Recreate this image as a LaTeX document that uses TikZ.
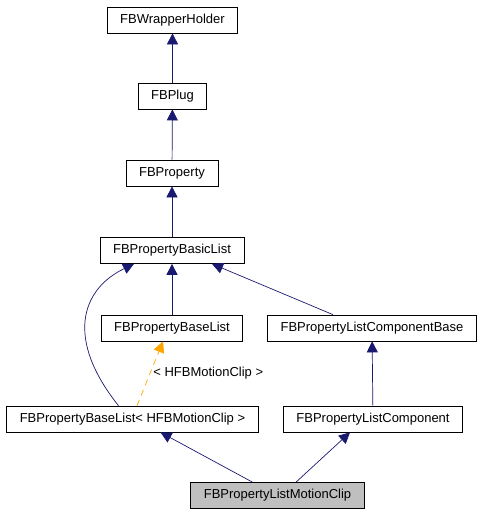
\documentclass[tikz,border=0pt]{standalone}
\usepackage{fontspec}
\setmainfont{Liberation Sans}
\usetikzlibrary{arrows.meta, calc}
\definecolor{edgeblue}{RGB}{25,25,112}
\definecolor{tmplorange}{RGB}{255,165,0}
\definecolor{curgray}{RGB}{191,191,191}

\begin{document}
\begin{tikzpicture}
  [x=1pt, y=-1pt,
   every node/.style = {font=\fontsize{13}{15}\selectfont},
   cls/.style = {
     rectangle, draw=black, fill=white, line width=0.7pt, align=center,
     inner xsep=13pt, inner ysep=0pt, minimum height=26pt},
   current/.style = {cls, fill=curgray},
   inherit/.style = {-{Triangle[length=11pt, width=11pt]}, draw=edgeblue, line width=0.7pt},
   tmpl/.style = {-{Triangle[length=11pt, width=11pt]}, draw=tmplorange,
     line width=0.7pt, dash pattern=on 6pt off 5pt}
  ]
  \useasboundingbox (0,0) rectangle (483,515);
  \node[cls] (wrapper) at (172.5,20) {FBWrapperHolder};
  \node[cls] (plug) at (172.5,96) {FBPlug};
  \node[cls] (property) at (172,173) {FBProperty};
  \node[cls] (basic) at (172,250.5) {FBPropertyBasicList};
  \node[cls] (baselist) at (172,328) {FBPropertyBaseList};
  \node[cls] (compbase) at (372,328) {FBPropertyListComponentBase};
  \node[cls] (hfb) at (132.5,419) {FBPropertyBaseList< HFBMotionClip >};
  \node[cls] (listcomp) at (373,419) {FBPropertyListComponent};
  \node[current] (motion) at (277.5,495.5) {FBPropertyListMotionClip};

  \draw[inherit] (plug) -- (wrapper);
  \draw[inherit] (property) -- (plug);
  \draw[inherit] (basic) -- (property);
  \draw[inherit] (baselist) -- (basic);
  \draw[inherit] ([xshift=-39pt]compbase.north) -- ([xshift=40pt]basic.south);
  \draw[inherit] ([xshift=-14pt]hfb.north)
    .. controls (66,340) and (80,290) .. ([xshift=-38pt]basic.south);
  \draw[tmpl] ([xshift=4.5pt]hfb.north) -- node[right, xshift=2pt, fill=white, inner sep=1pt] {< HFBMotionClip >} ([xshift=-9pt]baselist.south);
  \draw[inherit] (listcomp) -- (compbase);
  \draw[inherit] ([xshift=-25pt]motion.north) -- ([xshift=28pt]hfb.south);
  \draw[inherit] ([xshift=18.5pt]motion.north) -- ([xshift=-23pt]listcomp.south);
\end{tikzpicture}
\end{document}
